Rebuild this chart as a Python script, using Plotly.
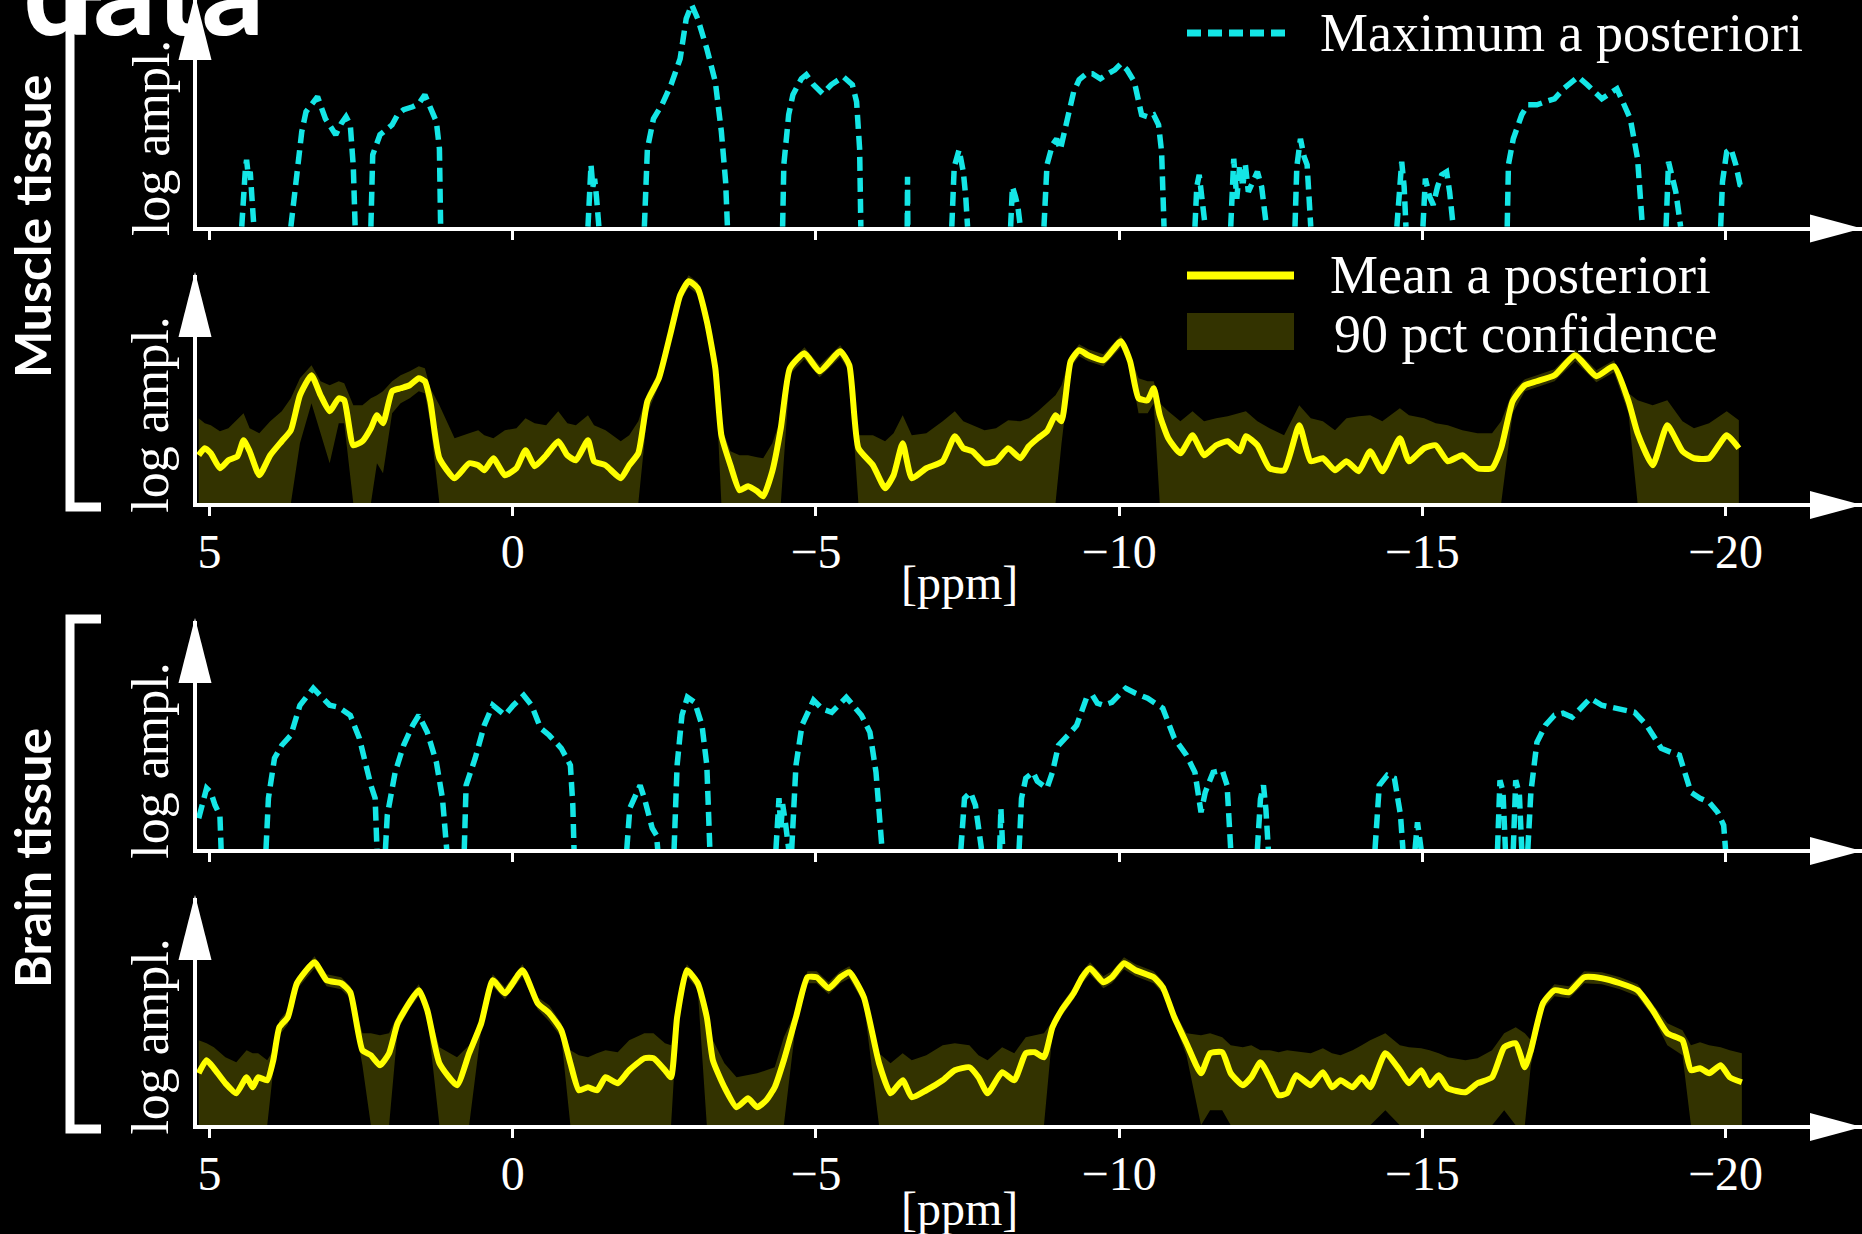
import plotly.graph_objects as go

# ---------------- data ----------------
tick_vals = [5, 0, -5, -10, -15, -20]
tick_labels = ["5", "0", "\u22125", "\u221210", "\u221215", "\u221220"]
legend_labels = ["Maximum a posteriori", "Mean a posteriori", "90 pct confidence"]
tissue_labels = ["Muscle tissue", "Brain tissue"]
axis_title_y = "log ampl."
axis_title_x = "[ppm]"
title_text = "data"

# Muscle tissue - maximum a posteriori (log amplitude, a.u.; None = below display floor)
muscle_map_ppm = [
    4.47, 4.44, 4.41, 4.39, 4.36, 4.33, 4.30, 4.27, None,
    3.66, 3.56, 3.48, 3.41, 3.31, 3.22, 3.09, 2.97, 2.92, 2.83, 2.75, 2.68, 2.63, 2.60, None,
    2.34, 2.31, 2.19, 2.09, 1.99, 1.90, 1.80, 1.65, 1.55, 1.45, 1.36, 1.26, 1.21, 1.19, None,
    -1.24, -1.27, -1.29, -1.32, -1.35, -1.38, -1.42, None,
    -2.17, -2.22, -2.32, -2.46, -2.61, -2.76, -2.86, -2.95, -3.05, -3.20, -3.34, -3.44, -3.51, -3.54, None,
    -4.45, -4.47, -4.55, -4.62, -4.76, -4.84, -4.96, -5.11, -5.25, -5.45, -5.60, -5.67, -5.72, -5.74, None,
    -6.505, -6.51, -6.515, None,
    -7.24, -7.28, -7.36, -7.43, -7.47, -7.50, None,
    -8.21, -8.24, -8.29, -8.33, -8.37, None,
    -8.76, -8.81, -8.90, -8.97, -9.03, -9.10, -9.17, -9.25, -9.34, -9.46, -9.56, -9.69,
    -9.79, -9.93, -10.03, -10.13, -10.25, -10.37, -10.47, -10.57, -10.65, -10.70, -10.74, None,
    -11.25, -11.28, -11.32, -11.36, -11.39, -11.42, None,
    -11.84, -11.89, -11.94, -11.99, -12.04, -12.08, -12.13, -12.20, -12.28, -12.35, -12.43, None,
    -12.90, -12.93, -12.99, -13.05, -13.10, -13.16, None,
    -14.58, -14.62, -14.66, -14.70, -14.73, None,
    -15.01, -15.05, -15.12, -15.18, -15.25, -15.32, -15.40, -15.45, -15.51, None,
    -16.40, -16.42, -16.50, -16.64, -16.74, -16.89, -17.03, -17.18, -17.33, -17.57, -17.72,
    -17.87, -17.96, -18.21, -18.36, -18.43, -18.55, -18.63, None,
    -19.02, -19.06, -19.12, -19.18, -19.26, None,
    -19.92, -19.95, -20.02, -20.09, -20.17, -20.24, -20.31,
]
muscle_map_val = [
    0, 40, 58, 67, 50, 55, 35, 0, None,
    0, 55, 95, 115, 123, 130, 108, 95, 92, 103, 110, 102, 60, 0, None,
    0, 72, 92, 97, 102, 112, 117, 120, 123, 132, 118, 105, 78, 0, None,
    0, 45, 62, 40, 48, 30, 0, None,
    0, 78, 108, 122, 142, 168, 208, 222, 208, 178, 145, 95, 45, 0, None,
    0, 62, 112, 132, 148, 152, 142, 133, 142, 150, 142, 125, 78, 0, None,
    0, 50, 0, None,
    0, 60, 77, 55, 30, 0, None,
    0, 40, 30, 20, 0, None,
    0, 62, 82, 88, 77, 95, 112, 135, 147, 153, 153, 148,
    152, 157, 163, 157, 145, 112, 110, 112, 102, 75, 0, None,
    0, 40, 52, 35, 20, 0, None,
    0, 68, 28, 62, 40, 63, 35, 45, 55, 40, 0, None,
    0, 60, 88, 70, 62, 0, None,
    0, 45, 65, 40, 0, None,
    0, 48, 30, 22, 40, 52, 55, 35, 0, None,
    0, 62, 88, 112, 122, 122, 125, 128, 138, 150, 142,
    133, 128, 138, 118, 108, 68, 0, None,
    0, 65, 50, 35, 0, None,
    0, 45, 75, 78, 62, 42, 40,
]

# Muscle tissue - mean a posteriori with 90 pct confidence band
muscle_mean_ppm = [
    5.18, 5.08, 4.98, 4.83, 4.69, 4.54, 4.44, 4.34, 4.18, 4.00,
    3.81, 3.66, 3.51, 3.32, 3.17, 3.02, 2.87, 2.78, 2.63, 2.48,
    2.34, 2.24, 2.14, 1.99, 1.85, 1.70, 1.55, 1.45, 1.36, 1.21,
    0.96, 0.72, 0.57, 0.47, 0.32, 0.13, -0.06, -0.21, -0.36, -0.55,
    -0.75, -0.90, -1.04, -1.24, -1.34, -1.53, -1.78, -1.92, -2.07, -2.22,
    -2.41, -2.61, -2.76, -2.90, -3.05, -3.20, -3.34, -3.44, -3.59, -3.74,
    -3.88, -4.03, -4.13, -4.28, -4.42, -4.57, -4.81, -5.06, -5.40, -5.55,
    -5.70, -5.94, -6.14, -6.28, -6.43, -6.58, -6.82, -7.09, -7.29, -7.43,
    -7.58, -7.78, -7.97, -8.17, -8.37, -8.51, -8.66, -8.81, -8.95, -9.05,
    -9.20, -9.34, -9.49, -9.74, -10.03, -10.18, -10.32, -10.47, -10.57, -10.67,
    -10.81, -11.01, -11.21, -11.40, -11.60, -11.79, -11.99, -12.09, -12.28, -12.48,
    -12.72, -12.97, -13.16, -13.36, -13.56, -13.75, -13.95, -14.14, -14.34, -14.63,
    -14.78, -15.03, -15.22, -15.42, -15.66, -15.91, -16.15, -16.30, -16.49, -16.69,
    -16.89, -17.18, -17.52, -17.87, -18.16, -18.40, -18.55, -18.80, -19.04, -19.29,
    -19.48, -19.73, -20.02, -20.22,
]
muscle_mean_val = [
    48, 55, 50, 35, 43, 47, 63, 52, 28, 48,
    62, 73, 108, 128, 108, 92, 105, 103, 58, 62,
    75, 88, 80, 112, 115, 118, 125, 122, 102, 45,
    25, 40, 38, 33, 45, 28, 35, 53, 37, 48,
    62, 48, 43, 63, 42, 38, 25, 38, 50, 102,
    125, 172, 208, 222, 215, 182, 135, 68, 38, 13,
    17, 12, 7, 32, 75, 135, 150, 132, 152, 138,
    55, 38, 15, 28, 60, 25, 35, 42, 67, 55,
    52, 40, 42, 55, 45, 57, 65, 72, 88, 82,
    142, 153, 148, 143, 162, 142, 105, 103, 115, 88,
    65, 50, 68, 48, 58, 62, 52, 67, 58, 35,
    33, 78, 42, 45, 33, 42, 32, 52, 32, 65,
    42, 55, 58, 42, 48, 35, 35, 55, 102, 118,
    122, 128, 148, 127, 137, 102, 70, 38, 78, 52,
    45, 45, 68, 55,
]
muscle_ci_hi = [
    85, 80, 78, 72, 75, 84, 90, 75, 70, 82,
    92, 105, 125, 138, 122, 118, 122, 120, 98, 98,
    105, 108, 112, 122, 128, 132, 137, 135, 115, 98,
    65, 70, 73, 68, 65, 73, 75, 85, 80, 78,
    92, 80, 78, 88, 78, 73, 62, 68, 82, 110,
    132, 178, 214, 228, 221, 188, 141, 76, 52, 48,
    48, 46, 45, 60, 85, 141, 156, 138, 158, 144,
    68, 68, 62, 70, 88, 68, 70, 82, 92, 82,
    78, 73, 75, 83, 82, 85, 92, 100, 108, 118,
    148, 159, 154, 149, 168, 148, 125, 122, 122, 100,
    92, 82, 92, 82, 85, 87, 90, 92, 82, 75,
    68, 98, 85, 82, 73, 85, 87, 88, 82, 95,
    88, 85, 80, 78, 73, 70, 70, 82, 112, 124,
    128, 134, 154, 133, 143, 110, 103, 98, 103, 82,
    75, 80, 92, 83,
]
muscle_ci_lo = [
    0, 0, 0, 0, 0, 0, 0, 0, 0, 0,
    0, 0, 60, 100, 70, 40, 80, 80, 0, 0,
    0, 40, 30, 90, 100, 105, 112, 110, 80, 0,
    0, 0, 0, 0, 0, 0, 0, 0, 0, 0,
    0, 0, 0, 0, 0, 0, 0, 0, 0, 90,
    118, 165, 202, 216, 209, 176, 129, 0, 0, 0,
    0, 0, 0, 0, 0, 129, 144, 126, 146, 132,
    0, 0, 0, 0, 0, 0, 0, 0, 0, 0,
    0, 0, 0, 0, 0, 0, 0, 0, 0, 60,
    136, 147, 142, 137, 156, 136, 90, 90, 100, 0,
    0, 0, 0, 0, 0, 0, 0, 0, 0, 0,
    0, 0, 0, 0, 0, 0, 0, 0, 0, 0,
    0, 0, 0, 0, 0, 0, 0, 0, 90, 112,
    116, 122, 142, 121, 131, 90, 0, 0, 0, 0,
    0, 0, 0, 0,
]

# Brain tissue - maximum a posteriori
brain_map_ppm = [
    5.18, 5.12, 5.05, 4.98, 4.91, 4.83, 4.81, None,
    4.07, 4.03, 3.93, 3.81, 3.66, 3.51, 3.29, 3.02, 2.87, 2.68, 2.53, 2.43, 2.34, 2.27, 2.24, None,
    2.10, 2.07, 1.94, 1.80, 1.65, 1.55, 1.41, 1.26, 1.16, 1.09, None,
    0.80, 0.77, 0.62, 0.47, 0.33, 0.13, -0.01, -0.18, -0.31, -0.46, -0.60, -0.80, -0.95, -0.99, -1.01, None,
    -1.88, -1.93, -2.10, -2.17, -2.30, -2.37, -2.39, None,
    -2.66, -2.71, -2.79, -2.88, -3.00, -3.12, -3.20, -3.25, None,
    -4.34, -4.37, -4.39, -4.42, -4.45, -4.50, -4.55, None,
    -4.60, -4.67, -4.77, -4.96, -5.11, -5.26, -5.50, -5.75, -5.89, -5.99, -6.09, None,
    -7.39, -7.45, -7.55, -7.63, -7.73, None,
    -8.03, -8.05, -8.08, None,
    -8.35, -8.39, -8.46, -8.58, -8.65, -8.81, -8.90, -9.00, -9.20, -9.30, -9.46, -9.56, -9.64, -9.74,
    -9.88, -10.11, -10.27, -10.47, -10.72, -10.91, -11.11, -11.25, -11.35, -11.42, -11.55, -11.70, -11.78, -11.84, None,
    -12.28, -12.33, -12.38, -12.42, -12.46, None,
    -14.22, -14.29, -14.42, -14.54, -14.64, -14.68, None,
    -14.88, -14.92, -14.98, None,
    -16.24, -16.28, -16.33, -16.37, None,
    -16.50, -16.54, -16.60, -16.64, None,
    -16.74, -16.79, -16.89, -17.03, -17.18, -17.32, -17.47, -17.77, -17.96, -18.21, -18.50,
    -18.70, -18.94, -19.10, -19.24, -19.43, -19.58, -19.73, -19.87, -19.97, -20.00,
]
brain_map_val = [
    31, 44, 61, 57, 44, 34, 0, None,
    0, 51, 91, 104, 114, 144, 161, 144, 142, 134, 111, 84, 64, 51, 0, None,
    0, 34, 77, 104, 124, 134, 117, 87, 51, 0, None,
    0, 64, 91, 124, 144, 134, 144, 154, 144, 121, 114, 101, 84, 44, 0, None,
    0, 41, 64, 51, 21, 14, 0, None,
    0, 84, 134, 152, 147, 124, 84, 0, None,
    0, 40, 51, 20, 45, 25, 0, None,
    0, 84, 124, 149, 140, 137, 152, 134, 117, 77, 0, None,
    0, 51, 57, 44, 0, None,
    0, 41, 0, None,
    0, 51, 71, 77, 68, 61, 77, 104, 117, 124, 151, 154, 146, 144,
    147, 161, 156, 151, 141, 111, 94, 77, 37, 57, 77, 79, 64, 0, None,
    0, 50, 64, 40, 0, None,
    0, 64, 74, 71, 34, 0, None,
    0, 27, 0, None,
    0, 69, 58, 0, None,
    0, 69, 55, 0, None,
    0, 57, 107, 124, 134, 136, 132, 151, 144, 141, 137,
    124, 101, 97, 94, 57, 51, 47, 37, 24, 0,
]

# Brain tissue - mean a posteriori with 90 pct confidence band
brain_mean_ppm = [
    5.18, 5.05, 4.93, 4.74, 4.56, 4.39, 4.29, 4.20, 4.05, 3.95,
    3.85, 3.71, 3.56, 3.27, 3.07, 2.83, 2.68, 2.48, 2.34, 2.19,
    2.04, 1.90, 1.70, 1.55, 1.41, 1.21, 0.92, 0.72, 0.52, 0.33,
    0.13, -0.16, -0.41, -0.60, -0.80, -0.95, -1.09, -1.24, -1.39, -1.53,
    -1.73, -1.92, -2.17, -2.32, -2.51, -2.61, -2.71, -2.87, -3.05, -3.20,
    -3.30, -3.49, -3.69, -3.88, -4.03, -4.18, -4.32, -4.47, -4.67, -4.86,
    -5.01, -5.21, -5.40, -5.55, -5.79, -6.04, -6.23, -6.43, -6.58, -6.82,
    -7.09, -7.29, -7.53, -7.68, -7.83, -8.07, -8.27, -8.46, -8.61, -8.76,
    -8.90, -9.05, -9.25, -9.39, -9.52, -9.74, -9.88, -10.08, -10.27, -10.57,
    -10.72, -10.91, -11.11, -11.35, -11.50, -11.70, -11.84, -12.04, -12.18, -12.33,
    -12.48, -12.63, -12.77, -12.92, -13.16, -13.36, -13.51, -13.65, -13.85, -14.00,
    -14.14, -14.39, -14.63, -14.78, -14.98, -15.12, -15.27, -15.42, -15.71, -15.91,
    -16.15, -16.35, -16.54, -16.69, -16.79, -16.99, -17.18, -17.42, -17.67, -17.96,
    -18.26, -18.55, -18.80, -19.04, -19.29, -19.43, -19.58, -19.73, -19.92, -20.07,
    -20.27,
]
brain_mean_val = [
    52, 65, 57, 42, 32, 48, 38, 48, 45, 65,
    98, 108, 142, 163, 145, 142, 133, 75, 70, 60,
    72, 102, 123, 135, 115, 62, 40, 72, 102, 145,
    132, 155, 122, 112, 95, 62, 35, 38, 35, 48,
    42, 55, 67, 67, 55, 48, 108, 155, 142, 108,
    65, 38, 18, 27, 18, 25, 38, 65, 108, 148,
    148, 137, 148, 153, 128, 62, 32, 45, 28, 35,
    45, 55, 58, 48, 32, 53, 45, 72, 73, 68,
    98, 115, 132, 148, 157, 143, 148, 162, 155, 148,
    138, 108, 82, 52, 72, 73, 52, 40, 48, 63,
    48, 30, 32, 50, 40, 53, 38, 45, 38, 48,
    38, 72, 55, 42, 55, 40, 50, 37, 33, 42,
    48, 78, 82, 58, 75, 122, 135, 133, 148, 147,
    142, 135, 115, 92, 85, 55, 57, 52, 60, 48,
    43,
]
brain_ci_hi = [
    85, 82, 78, 68, 63, 75, 72, 72, 65, 75,
    105, 115, 148, 169, 151, 148, 139, 92, 92, 90,
    92, 110, 129, 141, 121, 78, 68, 80, 108, 151,
    138, 161, 128, 120, 102, 75, 70, 68, 72, 75,
    73, 85, 92, 92, 82, 80, 114, 161, 148, 114,
    85, 62, 48, 50, 52, 55, 58, 88, 114, 154,
    154, 143, 154, 159, 134, 72, 62, 72, 65, 70,
    80, 82, 80, 70, 65, 78, 72, 88, 90, 92,
    104, 121, 138, 154, 163, 149, 154, 168, 161, 154,
    144, 114, 92, 90, 92, 88, 80, 78, 80, 75,
    75, 73, 75, 74, 72, 77, 72, 70, 75, 80,
    85, 92, 80, 78, 77, 75, 72, 68, 65, 67,
    75, 92, 98, 92, 85, 128, 141, 139, 154, 153,
    148, 141, 121, 102, 95, 80, 83, 80, 78, 75,
    72,
]
brain_ci_lo = [
    0, 0, 0, 0, 0, 0, 0, 0, 0, 55,
    90, 101, 136, 157, 139, 136, 127, 60, 0, 0,
    0, 95, 117, 129, 109, 0, 0, 0, 96, 139,
    126, 149, 116, 104, 88, 0, 0, 0, 0, 0,
    0, 0, 0, 0, 0, 0, 102, 149, 136, 0,
    0, 0, 0, 0, 0, 0, 0, 0, 102, 142,
    142, 131, 142, 147, 122, 0, 0, 0, 0, 0,
    0, 0, 0, 0, 0, 0, 0, 0, 0, 0,
    92, 109, 126, 142, 151, 137, 142, 156, 149, 142,
    132, 102, 70, 0, 15, 15, 0, 0, 0, 0,
    0, 0, 0, 0, 0, 0, 0, 0, 0, 0,
    0, 15, 0, 0, 0, 0, 0, 0, 0, 0,
    0, 15, 0, 0, 60, 116, 129, 127, 142, 141,
    136, 129, 109, 80, 70, 0, 0, 0, 0, 0,
    0,
]

# ---------------- styling / layout ----------------
W, H = 1862, 1234
CYAN = "#14e6e6"
YELLOW = "#ffff00"
BAND = "#333300"
SERIF = "Liberation Serif"
SANS = "Lato"


def px(x):
    return x / W


def py(y):
    return 1 - y / H


X_LEFT = 196.75
X_RANGE = [5.212, -22.251]
panels = [
    dict(top=0.0, bottom=226.75, axis=228.5, tip=-5),
    dict(top=275.0, bottom=503.25, axis=505.0, tip=272),
    dict(top=621.0, bottom=849.25, axis=851.0, tip=618),
    dict(top=898.0, bottom=1125.25, axis=1127.0, tip=895),
]

fig = go.Figure()

map_style = dict(color=CYAN, width=5.5, dash="14px,7px")
mean_style = dict(color=YELLOW, width=6, shape="spline", smoothing=0.5)

fig.add_trace(go.Scatter(x=muscle_map_ppm, y=muscle_map_val, xaxis="x", yaxis="y", mode="lines",
                         line=map_style, connectgaps=False, name=legend_labels[0], showlegend=False))
fig.add_trace(go.Scatter(x=muscle_mean_ppm + muscle_mean_ppm[::-1], y=muscle_ci_hi + muscle_ci_lo[::-1],
                         xaxis="x2", yaxis="y2", mode="lines", fill="toself", fillcolor=BAND,
                         line=dict(width=0), name=legend_labels[2], showlegend=False, hoverinfo="skip"))
fig.add_trace(go.Scatter(x=muscle_mean_ppm, y=muscle_mean_val, xaxis="x2", yaxis="y2", mode="lines",
                         line=mean_style, name=legend_labels[1], showlegend=False))
fig.add_trace(go.Scatter(x=brain_map_ppm, y=brain_map_val, xaxis="x3", yaxis="y3", mode="lines",
                         line=map_style, connectgaps=False, name=legend_labels[0], showlegend=False))
fig.add_trace(go.Scatter(x=brain_mean_ppm + brain_mean_ppm[::-1], y=brain_ci_hi + brain_ci_lo[::-1],
                         xaxis="x4", yaxis="y4", mode="lines", fill="toself", fillcolor=BAND,
                         line=dict(width=0), name=legend_labels[2], showlegend=False, hoverinfo="skip"))
fig.add_trace(go.Scatter(x=brain_mean_ppm, y=brain_mean_val, xaxis="x4", yaxis="y4", mode="lines",
                         line=mean_style, name=legend_labels[1], showlegend=False))

axes = {}
for i, p in enumerate(panels, start=1):
    sfx = "" if i == 1 else str(i)
    axes[f"xaxis{sfx}"] = dict(
        domain=[px(X_LEFT), 1], range=X_RANGE, anchor=f"y{sfx}",
        showline=True, linecolor="white", linewidth=4,
        ticks="outside", ticklen=9, tickwidth=3, tickcolor="white",
        tickmode="array", tickvals=tick_vals, ticktext=tick_labels,
        showticklabels=i in (2, 4), ticklabelstandoff=-6,
        tickfont=dict(family=SERIF, size=48, color="white"),
        showgrid=False, zeroline=False, fixedrange=True)
    axes[f"yaxis{sfx}"] = dict(
        domain=[py(p["bottom"]), py(p["top"])], range=[0, p["bottom"] - p["top"]],
        anchor=f"x{sfx}", showline=True, linecolor="white", linewidth=4,
        ticks="", showticklabels=False, showgrid=False, zeroline=False, fixedrange=True)

shapes = []
for p in panels:
    a = p["axis"]
    shapes.append(dict(type="path", xref="paper", yref="paper", layer="above",
                       path=f"M {px(1810)},{py(a - 14)} L {px(1862)},{py(a)} L {px(1810)},{py(a + 14)} Z",
                       fillcolor="white", line=dict(width=0)))
    t = p["tip"]
    shapes.append(dict(type="path", xref="paper", yref="paper", layer="above",
                       path=f"M {px(195)},{py(t)} L {px(211.5)},{py(t + 65)} L {px(178.5)},{py(t + 65)} Z",
                       fillcolor="white", line=dict(width=0)))

for y0, y1 in [(-4, 507), (619, 1129)]:
    shapes.append(dict(type="path", xref="paper", yref="paper",
                       path=f"M {px(101)},{py(y0)} L {px(70)},{py(y0)} L {px(70)},{py(y1)} L {px(101)},{py(y1)}",
                       fillcolor="rgba(0,0,0,0)", line=dict(color="white", width=9)))

# legend samples
shapes.append(dict(type="line", xref="paper", yref="paper", x0=px(1187), x1=px(1292), y0=py(33), y1=py(33),
                   line=dict(color=CYAN, width=7, dash="14px,7px")))
shapes.append(dict(type="line", xref="paper", yref="paper", x0=px(1187), x1=px(1294), y0=py(275.5), y1=py(275.5),
                   line=dict(color=YELLOW, width=8)))
shapes.append(dict(type="rect", xref="paper", yref="paper", x0=px(1187), x1=px(1294), y0=py(350), y1=py(313),
                   fillcolor=BAND, line=dict(width=0)))

serif_font = dict(family=SERIF, size=54, color="white")
annotations = [
    dict(x=px(1318), y=py(33), text=legend_labels[0]),
    dict(x=px(1328), y=py(275), text=legend_labels[1]),
    dict(x=px(1332), y=py(334), text=legend_labels[2]),
]
for a in annotations:
    a.update(xref="paper", yref="paper", xanchor="left", yanchor="middle", showarrow=False, font=serif_font)

for xa, yc in [("x2", 582), ("x4", 1208)]:
    annotations.append(dict(x=-7.36, xref=xa, y=py(yc), yref="paper", text=axis_title_x, showarrow=False,
                            xanchor="center", yanchor="middle", font=dict(family=SERIF, size=48, color="white")))

for i in range(1, 5):
    sfx = "" if i == 1 else str(i)
    annotations.append(dict(x=px(151), xref="paper", y=-0.05, yref=f"y{sfx} domain", text=axis_title_y,
                            textangle=-90, showarrow=False, xanchor="center", yanchor="bottom",
                            font=dict(family=SERIF, size=52, color="white")))

for lbl, yc in zip(tissue_labels, [227, 858]):
    annotations.append(dict(x=px(32), xref="paper", y=py(yc), yref="paper", text=lbl, textangle=-90,
                            showarrow=False, xanchor="center", yanchor="middle",
                            font=dict(family=SANS, size=50, weight="bold", color="white")))

annotations.append(dict(x=px(21), xref="paper", y=py(63), yref="paper", text=title_text, showarrow=False,
                        xanchor="left", yanchor="bottom",
                        font=dict(family=SANS, size=124, weight="bold", color="white")))

fig.update_layout(
    width=W, height=H, margin=dict(l=0, r=0, t=0, b=0),
    paper_bgcolor="black", plot_bgcolor="black", showlegend=False,
    shapes=shapes, annotations=annotations, **axes)

fig.write_html("out.html", config={"displayModeBar": False},
               post_script="document.body.style.margin='0';document.body.style.overflow='hidden';")
